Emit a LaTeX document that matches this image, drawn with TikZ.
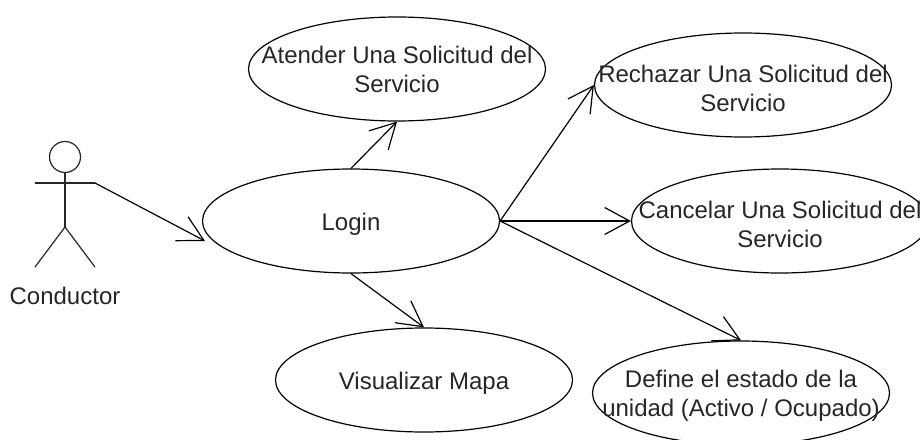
\documentclass[tikz,border=0pt]{standalone}
\usepackage{fontspec}
\setmainfont{Liberation Sans}
\usetikzlibrary{arrows.meta, shapes.geometric}
\tikzset{
  usecase/.style = {ellipse, draw=black, line width=1.2pt, inner sep=0pt,
    minimum width=297pt, minimum height=104pt},
  usetext/.style = {align=center, inner sep=0pt, text=black!85,
    font=\fontsize{24}{29}\selectfont},
  casetext/.style = {usetext, yshift=-3pt},
  limb/.style = {line width=1.2pt, black!85}
}

\begin{document}
\begin{tikzpicture}[x=1pt, y=-1pt, ->, >={Straight Barb[length=25pt, width=27pt]}, line width=1.2pt]
\useasboundingbox (0,0) rectangle (920,439);
% actor
\node [circle, draw=black, limb, -, minimum size=31pt, inner sep=0pt] (head) at (65,157) {};
\coordinate (neck) at (65,183);
\coordinate (handl) at (35,183);
\coordinate (handr) at (95,183);
\coordinate (hip) at (65,227);
\coordinate (footl) at (35,267);
\coordinate (footr) at (95,267);
\draw [limb, -] (head.south) -- (hip);
\draw [limb, -] (handl) -- (handr);
\draw [limb, -] (footl) -- (hip) -- (footr);
\node [usetext] (conductor) at (65,296) {Conductor};
% use cases
\node [usecase, label={[casetext]center:Login}] (login) at (351,221) {};
\node [usecase, label={[usetext]center:Atender Una Solicitud del\\Servicio}] (atender) at (397,69) {};
\node [usecase, label={[casetext]center:Rechazar Una Solicitud del\\Servicio}] (rechazar) at (743,85) {};
\node [usecase, label={[casetext]center:Cancelar Una Solicitud del\\Servicio}] (cancelar) at (780,221) {};
\node [usecase, label={[casetext]center:Visualizar Mapa}] (visualizar) at (424,380) {};
\node [usecase, label={[casetext]center:Define el estado de la\\unidad (Activo / Ocupado)}] (define) at (741,393) {};
% connectors
\coordinate (loginin) at (205,241);
\draw (handr) -- (loginin);
\draw (login.north) -- (atender.south);
\draw (login.south) -- (visualizar.north);
\draw (login.east) -- (rechazar.west);
\draw (login.east) -- (cancelar.west);
\draw (login.east) -- (define.north);
\end{tikzpicture}
\end{document}
